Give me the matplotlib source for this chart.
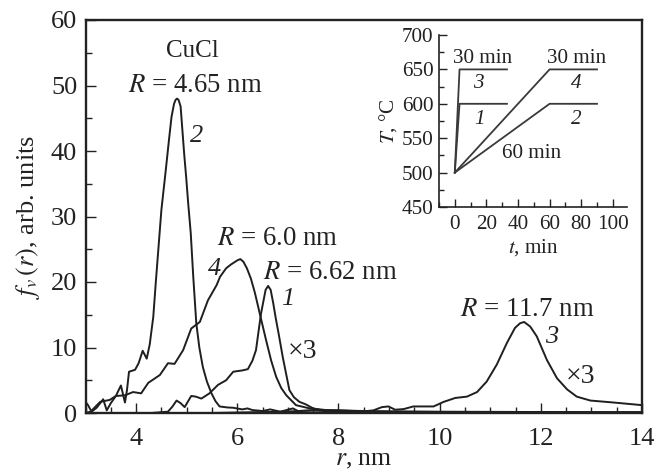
#!/usr/bin/env python3
# -*- coding: utf-8 -*-
import matplotlib
matplotlib.use("Agg")
import matplotlib.pyplot as plt
from matplotlib.ticker import MultipleLocator

r2 = [3.0, 3.05, 3.12, 3.22, 3.35, 3.42, 3.5, 3.6, 3.7, 3.78, 3.82, 3.86, 3.98, 4.05, 4.13, 4.21, 4.27, 4.34, 4.39, 4.44, 4.5, 4.58, 4.65, 4.7, 4.75, 4.78, 4.81, 4.84, 4.88, 4.95, 4.99, 5.03, 5.08, 5.13, 5.19, 5.25, 5.32, 5.4, 5.49, 5.57, 5.65, 5.8, 5.92, 6.1, 6.2, 6.3, 6.5, 6.65, 6.85, 7.1, 7.2, 7.5, 8.0, 8.5, 10, 14]
f2 = [1.7, 1.2, 0.2, 0.8, 2.1, 0.4, 1.5, 2.6, 4.2, 1.6, 3.5, 6.3, 6.6, 7.6, 9.5, 8.3, 10.5, 14.7, 20, 25, 31, 36.6, 41.7, 45.2, 47.2, 47.8, 48, 47.8, 46.8, 39.6, 36, 32, 27.5, 20.8, 13.7, 10, 7, 4.8, 3, 1.8, 1, 0.85, 0.8, 0.55, 0.7, 0.45, 0.3, 0.55, 0.2, 0.7, 0.3, 0.4, 0.2, 0.2, 0.1, 0.1]

r4 = [3.0, 3.1, 3.29, 3.48, 3.6, 3.78, 3.94, 4.1, 4.24, 4.47, 4.63, 4.76, 4.93, 5.09, 5.26, 5.42, 5.59, 5.66, 5.78, 5.88, 6.0, 6.06, 6.12, 6.19, 6.27, 6.35, 6.45, 6.57, 6.67, 6.77, 6.87, 6.97, 7.16, 7.43, 7.76, 8.5, 10, 14]
f4 = [0, 0.2, 1.7, 2.0, 2.6, 2.7, 3.2, 3.0, 4.6, 5.8, 7.6, 7.5, 9.6, 12.9, 13.9, 17.2, 19.5, 20.8, 22.1, 22.7, 23.3, 23.5, 23.1, 22.1, 20.5, 18.3, 15, 11.1, 8, 5.5, 3.8, 2.7, 1.2, 0.7, 0.45, 0.3, 0.2, 0.1]

r1 = [4.3, 4.63, 4.72, 4.8, 4.88, 4.96, 5.09, 5.18, 5.29, 5.45, 5.62, 5.78, 5.92, 6.1, 6.21, 6.3, 6.37, 6.43, 6.47, 6.51, 6.56, 6.61, 6.66, 6.71, 6.76, 6.82, 6.9, 7.03, 7.12, 7.23, 7.36, 7.5, 7.82, 8.5, 10, 14]
f1 = [0, 0.2, 1.0, 1.9, 1.5, 0.9, 2.6, 2.5, 2.2, 3.0, 4.3, 5.0, 6.3, 6.5, 6.7, 8, 9.6, 13, 15.2, 16.8, 18.8, 19.4, 18.8, 16.8, 14.5, 12, 8.5, 3.5, 2.4, 1.7, 1.3, 0.7, 0.2, 0.1, 0.1, 0.1]

r3 = [5.5, 6.2, 6.9, 7.5, 8.0, 8.49, 8.69, 8.86, 8.99, 9.12, 9.29, 9.48, 9.88, 10.08, 10.31, 10.54, 10.74, 10.93, 11.13, 11.33, 11.49, 11.59, 11.67, 11.79, 11.92, 12.12, 12.32, 12.52, 12.71, 12.98, 13.44, 14.0]
f3 = [0, 0.1, 0.2, 0.4, 0.4, 0.25, 0.4, 0.9, 1.0, 0.5, 0.6, 1.0, 1.0, 1.7, 2.3, 2.5, 3.2, 4.8, 7.4, 10.7, 13.0, 13.7, 13.9, 13.2, 11.7, 8.1, 5.3, 3.6, 2.5, 1.9, 1.6, 1.2]

t_a = [0, 3, 33]
T_3 = [500, 650, 650]
T_1 = [500, 600, 600]
t_b = [0, 60, 90]
T_4 = [500, 650, 650]
T_2 = [500, 600, 600]

plt.rcParams["font.family"] = "Liberation Serif"
plt.rcParams["mathtext.fontset"] = "stix"

W, H = 657, 472
fig = plt.figure(figsize=(W / 100, H / 100), dpi=100)
ax = fig.add_axes([85.5 / W, 1 - 413 / H, (642 - 85.5) / W, (413 - 20) / H])
for x, y in [(r1, f1), (r2, f2), (r3, f3), (r4, f4)]:
    ax.plot(x, y, color="#1f1f1f", lw=1.4, solid_joinstyle="round")
ax.set_xlim(3, 14)
ax.set_ylim(0, 60)
ax.xaxis.set_major_locator(MultipleLocator(2))
ax.xaxis.set_minor_locator(MultipleLocator(0.5))
ax.yaxis.set_major_locator(MultipleLocator(10))
ax.yaxis.set_minor_locator(MultipleLocator(5))
ax.tick_params(which="major", direction="in", length=7, width=1.0, labelsize=19, pad=11, colors="#222222")
ax.tick_params(which="minor", direction="in", length=4, width=1.0, color="#222222")
ax.tick_params(axis="y", pad=6)
for s in ax.spines.values():
    s.set_linewidth(1.7)
    s.set_color("#222222")
ax.set_xlabel(r"$\mathit{r}$, nm", fontsize=18.5, labelpad=-1, color="#222222")
ax.set_ylabel(r"$\mathit{f_v}\,(\mathit{r})$, arb. units", fontsize=19, labelpad=6, color="#222222")


def label(x, y, s, size=19, **kw):
    fig.text(x / W, 1 - y / H, s, fontsize=size, ha="left", va="baseline", color="#222222", **kw)


label(166, 57, "CuCl", size=18)
label(128, 92, r"$\mathit{R}$ = 4.65 nm", size=19.3)
label(217, 245, r"$\mathit{R}$ = 6.0 nm", size=19.3)
label(263, 279, r"$\mathit{R}$ = 6.62 nm", size=19.3)
label(460, 316, r"$\mathit{R}$ = 11.7 nm", size=19.3)
label(288, 358, "×3", size=20)
label(566, 383, "×3", size=20)
label(190, 142, "2", style="italic")
label(208, 275, "4", style="italic")
label(281, 305, "1", style="italic")
label(545, 343, "3", style="italic")

ins = fig.add_axes([439 / W, 1 - 207 / H, (627 - 439) / W, (207 - 35) / H])
ins.patch.set_alpha(0)
for x, y in [(t_a, T_3), (t_a, T_1), (t_b, T_4), (t_b, T_2)]:
    ins.plot(x, y, color="#3a3a3a", lw=1.3)
ins.set_xlim(-10, 109)
ins.set_ylim(450, 700)
ins.spines["top"].set_visible(False)
ins.spines["right"].set_visible(False)
ins.set_xticks([0, 20, 40, 60, 80, 100])
ins.xaxis.set_minor_locator(MultipleLocator(10))
ins.yaxis.set_major_locator(MultipleLocator(50))
ins.yaxis.set_minor_locator(MultipleLocator(25))
ins.tick_params(which="major", direction="in", length=6, width=1, labelsize=15.2, pad=6, colors="#222222")
ins.tick_params(which="minor", direction="in", length=3.5, width=1, color="#222222")
ins.tick_params(axis="y", pad=4)
for s in ins.spines.values():
    s.set_linewidth(1.2)
    s.set_color("#222222")
ins.set_xlabel(r"$\mathit{t}$, min", fontsize=15.2, labelpad=2, color="#222222")
ins.set_ylabel(r"$\mathit{T}$, °C", fontsize=15.2, labelpad=2, color="#222222")

label(453, 63, "30 min", size=15.2)
label(547, 63, "30 min", size=15.2)
label(502, 158, "60 min", size=15.2)
label(473, 88, "3", size=15.2, style="italic")
label(571, 88, "4", size=15.2, style="italic")
label(474, 124, "1", size=15.2, style="italic")
label(571, 124, "2", size=15.2, style="italic")

fig.savefig("out.png", dpi=100)
